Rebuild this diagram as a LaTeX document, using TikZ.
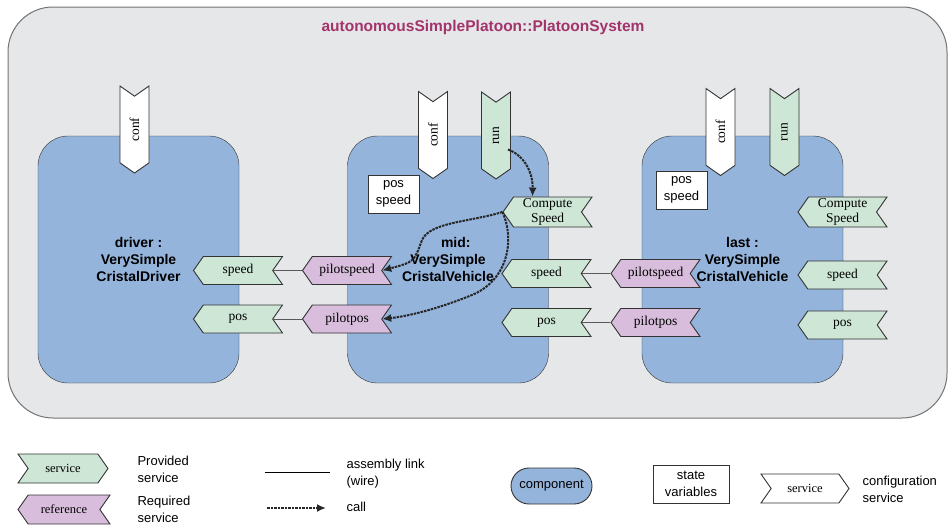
\documentclass[tikz,border=0pt]{standalone}
\usepackage{fontspec}
\setmainfont{Liberation Serif}
\setsansfont{Liberation Sans}
\usetikzlibrary{shapes.symbols,shapes.misc,arrows.meta}
\definecolor{sysgray}{HTML}{E6E7E9}
\definecolor{compblue}{HTML}{94B4DC}
\definecolor{provgreen}{HTML}{CDE6D6}
\definecolor{reqpurple}{HTML}{D8BEDC}
\definecolor{titlered}{HTML}{A3336B}

\begin{document}
\begin{tikzpicture}[x=1pt, y=-1pt,
	comp/.style={draw=black!80, fill=compblue, rounded corners=30pt, minimum width=201pt, minimum height=247pt, inner sep=0pt, align=center, font=\sffamily\bfseries\fontsize{14}{17}\selectfont},
	port/.style={draw=black!80, line width=0.9pt, signal, signal pointer angle=110, minimum width=89pt, minimum height=28pt, inner sep=0pt, align=center, font=\fontsize{13.5}{15}\selectfont},
	prov/.style={port, fill=provgreen, signal to=west, signal from=east},
	req/.style={port, fill=reqpurple, signal to=west, signal from=east},
	cfg/.style={port, fill=white, rotate=90, signal to=west, signal from=east, minimum width=87pt, minimum height=29pt},
	runport/.style={cfg, fill=provgreen},
	state/.style={draw=black!80, fill=white, line width=0.9pt, align=center, inner sep=2pt, font=\sffamily\fontsize{13}{17}\selectfont},
	wire/.style={draw=black!65, line width=0.9pt},
	call/.style={black!85, line width=2pt, dash pattern=on 2.5pt off 1pt, -{Latex[length=9pt,width=8pt]}},
	legend/.style={anchor=west, align=left, font=\sffamily\fontsize{13}{17}\selectfont}]
	\useasboundingbox (0,0) rectangle (949,525);

	% Draw the system frame
	\draw[draw=black!55, fill=sysgray, rounded corners=45pt, line width=1pt] (8,7) rectangle (947,418);
	\node[font=\sffamily\bfseries\fontsize{15.5}{15.5}\selectfont, text=titlered] (title) at (483,27) {autonomousSimplePlatoon::PlatoonSystem};

	% Components
	\node[comp] (driver) at (138.5,259.5) {driver :\\VerySimple\\CristalDriver};
	\node[comp] (mid) at (448,259.5) {\phantom{xx}mid:\\VerySimple\\CristalVehicle};
	\node[comp] (last) at (742.5,259.5) {last :\\VerySimple\\CristalVehicle};

	% Configuration and run services
	\node[cfg] (dconf) at (134.5,129.5) {conf};
	\node[cfg] (mconf) at (433,135) {conf};
	\node[runport] (mrun) at (496,135.5) {run};
	\node[cfg] (lconf) at (720.5,132) {conf};
	\node[runport] (lrun) at (784.5,132) {run};

	% State variables
	\node[state, minimum width=51pt, minimum height=38pt] (mstate) at (393.5,194) {pos\\speed};
	\node[state, minimum width=51pt, minimum height=38pt] (lstate) at (681.5,190) {pos\\speed};

	% Provided and required services
	\node[prov] (dspeed) at (238,270.5) {speed};
	\node[prov] (dpos) at (238,319) {pos};
	\node[req] (mpspeed) at (347,270.5) {pilotspeed};
	\node[req] (mppos) at (347,319) {pilotpos};
	\node[prov, minimum height=30pt] (mcs) at (547.5,212) {Compute\\Speed};
	\node[prov] (mspeed) at (546.5,273.5) {speed};
	\node[prov] (mpos) at (546.5,322.5) {pos};
	\node[req] (lpspeed) at (655.5,273.5) {pilotspeed};
	\node[req] (lppos) at (655.5,322.5) {pilotpos};
	\node[prov, minimum height=30pt] (lcs) at (842.5,212) {Compute\\Speed};
	\node[prov] (lspeed) at (842.5,275) {speed};
	\node[prov] (lpos) at (842.5,325) {pos};

	% Wires
	\draw[wire] (dspeed.east) -- (mpspeed.west);
	\draw[wire] (dpos.east) -- (mppos.west);
	\draw[wire] (mspeed.east) -- (lpspeed.west);
	\draw[wire] (mpos.east) -- (lppos.west);

	% Calls
	\draw[call] ([xshift=12pt,yshift=-14pt]mrun.center) .. controls (526,156) and (533,175) .. ([xshift=-15pt]mcs.north);
	\draw[call] (mcs.west) .. controls (470,222) and (430,222) .. (422,240) .. controls (414,262) .. (mpspeed.east);
	\draw[call] (mcs.west) .. controls (515,240) and (508,280) .. (472,295) .. controls (440,308) and (410,316) .. (mppos.east);

	% Legend
	\node[port, fill=provgreen, signal to=east, signal from=west, minimum width=90pt, minimum height=29pt, font=\fontsize{12.5}{12}\selectfont] (lgserv) at (63,468.5) {service};
	\node[legend] (lgprov) at (134,469) {Provided\\service};
	\node[port, fill=reqpurple, signal to=west, signal from=east, minimum width=92pt, minimum height=29pt, font=\fontsize{12.5}{12}\selectfont] (lgref) at (64,509.5) {reference};
	\node[legend] (lgreq) at (134,509) {Required\\service};
	\coordinate (wa) at (265,472);
	\coordinate (wb) at (330,472);
	\draw[black, line width=0.8pt] (wa) -- (wb);
	\node[legend] (lgwire) at (343,474) {assembly link\\(wire)};
	\coordinate (ca) at (267,508);
	\coordinate (cb) at (326,508);
	\draw[call] (ca) -- (cb);
	\node[legend] (lgcall) at (343,507) {call};
	\node[rounded rectangle, draw=black!80, fill=compblue, line width=0.9pt, minimum width=81pt, minimum height=36pt, inner sep=0pt, font=\sffamily\fontsize{13}{13}\selectfont] (lgcomp) at (551.5,486) {component};
	\node[state, minimum width=76pt, minimum height=38pt] (lgstate) at (691,484) {state\\variables};
	\node[port, fill=white, signal to=east, signal from=west, minimum width=88pt, minimum height=29pt, font=\fontsize{12.5}{12}\selectfont] (lgcfg) at (805,488.5) {service};
	\node[legend] (lgconf) at (859,489) {configuration\\service};
\end{tikzpicture}
\end{document}
